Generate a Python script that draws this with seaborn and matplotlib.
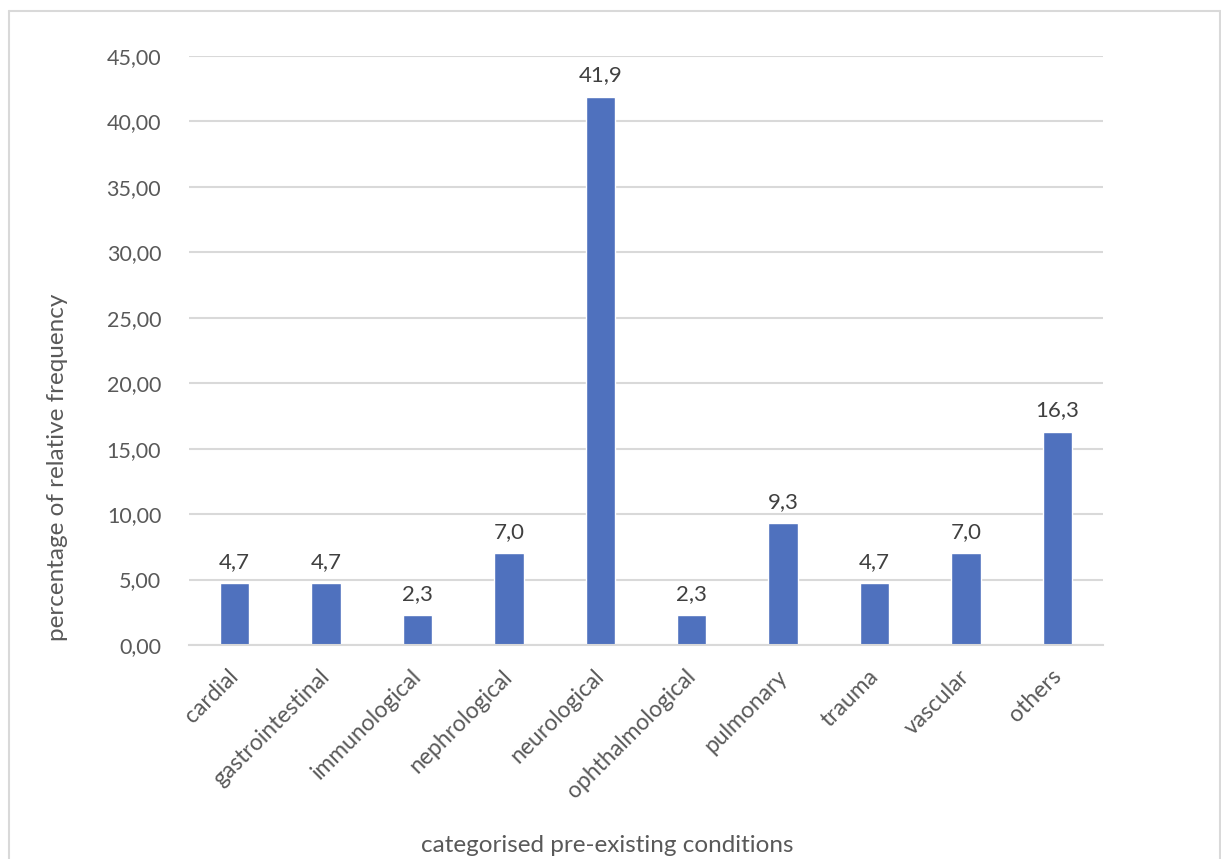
import matplotlib
matplotlib.use("Agg")
import matplotlib.pyplot as plt
from matplotlib.lines import Line2D
from matplotlib.ticker import FuncFormatter, MultipleLocator
from matplotlib.transforms import ScaledTranslation
import seaborn as sns
import pandas as pd

categories = ["cardial", "gastrointestinal", "immunological", "nephrological",
              "neurological", "ophthalmological", "pulmonary", "trauma",
              "vascular", "others"]
percentages = [4.7, 4.7, 2.3, 7.0, 41.9, 2.3, 9.3, 4.7, 7.0, 16.3]
y_label = "percentage of relative frequency"
x_label = "categorised pre-existing conditions"

df = pd.DataFrame({"condition": categories, "percent": percentages})

sns.set_theme(style="white")
plt.rcParams["font.family"] = ["Lato", "DejaVu Sans"]

W, H = 1221, 859
fig = plt.figure(figsize=(W / 100, H / 100), dpi=100)
ax = fig.add_axes([189 / W, 1 - 645 / H, (1103 - 189) / W, (645 - 56) / H])

bar_color = "#4F71BE"
grid_color = "#D9D9D9"
tick_color = "#595959"

sns.barplot(data=df, x="condition", y="percent", color=bar_color,
            width=0.32, saturation=1, ax=ax, zorder=3)

ax.set_ylim(0, 45)
ax.set_xlim(-0.5, len(categories) - 0.5)
ax.yaxis.set_major_locator(MultipleLocator(5))
ax.yaxis.set_major_formatter(FuncFormatter(lambda v, _: f"{v:.2f}".replace(".", ",")))
ax.grid(axis="y", color=grid_color, linewidth=1.5, zorder=0)
ax.set_axisbelow(True)
for side in ["top", "right", "left"]:
    ax.spines[side].set_visible(False)
ax.spines["bottom"].set_color(grid_color)
ax.spines["bottom"].set_linewidth(1.5)
ax.spines["bottom"].set_zorder(4)

ax.tick_params(axis="y", length=0, pad=20, labelsize=15.5, labelcolor=tick_color)
ax.tick_params(axis="x", length=0, pad=15, labelsize=16.5, labelcolor=tick_color)
ax.set_xticks(range(len(categories)))
ax.set_xticklabels(categories, rotation=45, ha="right", va="top",
                   rotation_mode="anchor")
# nudge the slanted labels so their ends sit under the bar centres
shift = ScaledTranslation(-7 / 100, 0, fig.dpi_scale_trans)
for lbl in ax.get_xticklabels():
    lbl.set_transform(lbl.get_transform() + shift)
ax.set_xlabel("")
ax.set_ylabel("")

# value labels above each bar
for container in ax.containers:
    ax.bar_label(container, labels=[f"{v:.1f}".replace(".", ",") for v in percentages],
                 padding=8, fontsize=16, color="#404040")

fig.text(58 / W, 1 - 467 / H, y_label, rotation=90, ha="center", va="center",
         fontsize=17.5, color=tick_color)
fig.text(607 / W, 1 - 845 / H, x_label, ha="center", va="center",
         fontsize=17.5, color=tick_color)

# chart frame
frame_kw = dict(color=grid_color, linewidth=1.5, transform=fig.transFigure)
fig.add_artist(Line2D([8.5 / W, 8.5 / W], [0, 1 - 11 / H], **frame_kw))
fig.add_artist(Line2D([8.5 / W, 1220 / W], [1 - 11 / H, 1 - 11 / H], **frame_kw))
fig.add_artist(Line2D([1220 / W, 1220 / W], [0, 1 - 11 / H], **frame_kw))

fig.savefig("out.png", dpi=100, facecolor="white")
